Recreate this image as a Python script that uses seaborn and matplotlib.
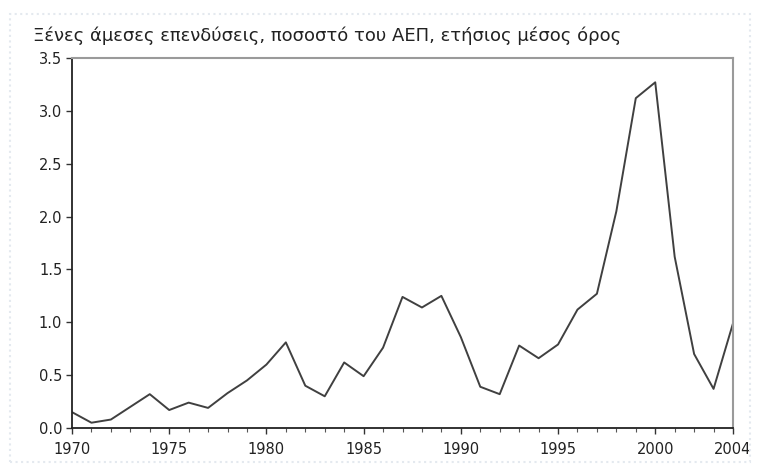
import matplotlib
matplotlib.use('Agg')
import matplotlib.pyplot as plt
import seaborn as sns
import pandas as pd
from matplotlib.patches import Rectangle

# Data
years = list(range(1970, 2005))
fdi_pct = [0.15, 0.05, 0.08, 0.20, 0.32, 0.17, 0.24, 0.19, 0.33, 0.45,
           0.60, 0.81, 0.40, 0.30, 0.62, 0.49, 0.76, 1.24, 1.14, 1.25,
           0.86, 0.39, 0.32, 0.78, 0.66, 0.79, 1.12, 1.27, 2.05, 3.12,
           3.27, 1.62, 0.70, 0.37, 0.99]
tick_years = [1970, 1975, 1980, 1985, 1990, 1995, 2000, 2004]
title = 'Ξένες άμεσες επενδύσεις, ποσοστό του ΑΕΠ, ετήσιος μέσος όρος'

df = pd.DataFrame({'year': years, 'value': fdi_pct})

sns.set_style('ticks')
plt.rcParams['font.family'] = ['DejaVu Sans']

fig = plt.figure(figsize=(7.6, 4.76), dpi=100)
fig.patch.set_facecolor('white')
# faint scan-like frame around the panel
fig.patches.append(Rectangle((10 / 760, 14 / 476), 740 / 760, 448 / 476,
                             transform=fig.transFigure, fill=False,
                             edgecolor='#e4e9ef', linewidth=1.5, linestyle=':'))

ax = fig.add_axes([72 / 760, 1 - 428 / 476, 661 / 760, 370 / 476])
sns.lineplot(data=df, x='year', y='value', color='#404040', linewidth=1.4, ax=ax)

ax.set_xlim(1970, 2004)
ax.set_ylim(0, 3.5)
ax.set_xticks(tick_years)
ax.set_xticks(years, minor=True)
ax.set_yticks([0, 0.5, 1.0, 1.5, 2.0, 2.5, 3.0, 3.5])
ax.set_yticklabels(['0.0', '0.5', '1.0', '1.5', '2.0', '2.5', '3.0', '3.5'])
ax.set_xlabel('')
ax.set_ylabel('')

ax.tick_params(axis='both', which='major', direction='out', length=4, width=1,
               color='#333333', labelsize=10.5, labelcolor='#222222')
ax.tick_params(axis='x', which='major', pad=6)
ax.tick_params(axis='y', which='major', pad=3)
ax.tick_params(axis='x', which='minor', direction='out', length=3, width=0.8,
               color='#555555')

for side in ['left', 'bottom']:
    ax.spines[side].set_color('#222222')
    ax.spines[side].set_linewidth(1.3)
for side in ['top', 'right']:
    ax.spines[side].set_visible(True)
    ax.spines[side].set_color('#9a9a9a')
    ax.spines[side].set_linewidth(1.5)

fig.text(33 / 760, 1 - 41 / 476, title, fontsize=13, color='#222222',
         ha='left', va='baseline')

fig.savefig('out.png', dpi=100)
